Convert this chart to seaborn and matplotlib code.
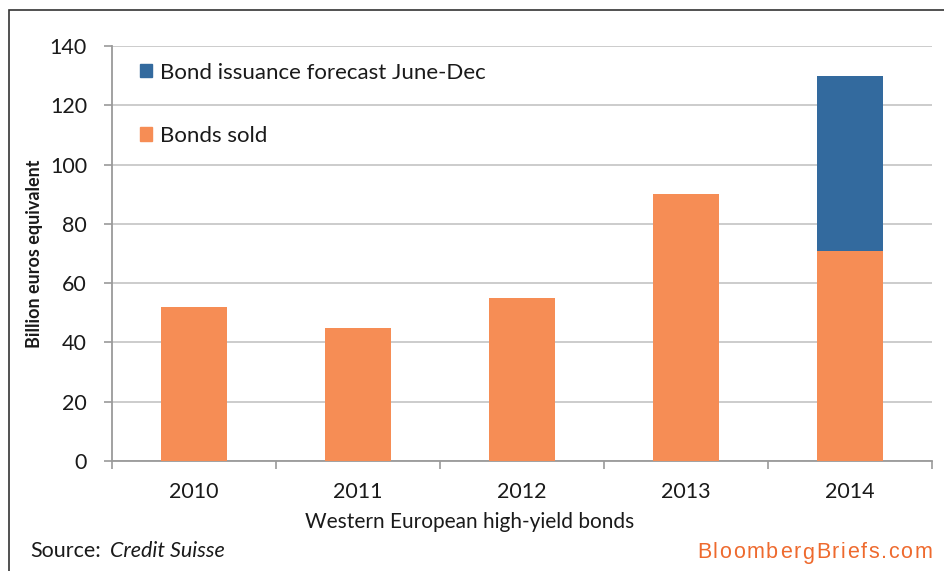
import matplotlib
matplotlib.use("Agg")
import matplotlib.pyplot as plt
import seaborn as sns
import pandas as pd
from matplotlib.patches import Rectangle, Patch
from matplotlib.font_manager import FontProperties

years = ["2010", "2011", "2012", "2013", "2014"]
bonds_sold = [52, 45, 55, 90, 71]
forecast_jun_dec = [0, 0, 0, 0, 59]
y_ticks = [0, 20, 40, 60, 80, 100, 120, 140]

ORANGE = "#F68D55"
BLUE = "#336A9E"
GRID = "#C8C8C8"
AXIS = "#9A9A9A"

sns.set_theme(style="white")
plt.rcParams["font.family"] = ["Lato", "DejaVu Sans"]

df = pd.DataFrame({
    "year": years,
    "sold": bonds_sold,
    "total": [s + f for s, f in zip(bonds_sold, forecast_jun_dec)],
})

fig = plt.figure(figsize=(9.45, 5.71), dpi=100)
ax = fig.add_axes([112 / 945, 1 - 461 / 571, (932 - 112) / 945, (461 - 46) / 571])

sns.barplot(data=df, x="year", y="total", color=BLUE, width=0.4, saturation=1,
            ax=ax, zorder=3)
sns.barplot(data=df, x="year", y="sold", color=ORANGE, width=0.4, saturation=1,
            ax=ax, zorder=4)
for p in ax.patches:
    p.set_edgecolor("none")

ax.set_ylim(0, 140)
ax.set_xlim(-0.5, 4.5)
ax.set_yticks(y_ticks)
ax.set_yticklabels([str(v) for v in y_ticks], fontsize=15.5, color="#1a1a1a")
ax.yaxis.grid(True, color=GRID, linewidth=1.3, zorder=0)
ax.set_axisbelow(True)

# category ticks: marks at boundaries, labels at centres
ax.set_xticks([i - 0.5 for i in range(len(years) + 1)])
ax.set_xticklabels([""] * (len(years) + 1))
ax.set_xticks(range(len(years)), minor=True)
ax.set_xticklabels(years, minor=True, fontsize=15.5, color="#1a1a1a")
ax.tick_params(axis="x", which="major", direction="out", length=6, width=1.2, color=AXIS, bottom=True)
ax.tick_params(axis="x", which="minor", length=0, pad=15)
ax.tick_params(axis="y", direction="out", length=6, width=1.2, color=AXIS, left=True, pad=12)

for s in ["top", "right"]:
    ax.spines[s].set_visible(False)
for s in ["left", "bottom"]:
    ax.spines[s].set_color(AXIS)
    ax.spines[s].set_linewidth(1.3)

ax.set_xlabel("Western European high-yield bonds", fontsize=15, color="#1a1a1a")
ax.xaxis.set_label_coords((470 - 112) / 820, -(522 - 461) / 415)
ax.xaxis.label.set_va("center")
ax.set_ylabel("Billion euros equivalent", fontsize=13, fontweight="bold", color="#1a1a1a")
ax.yaxis.set_label_coords(-(112 - 35) / 820, 0.5)
ax.yaxis.label.set_va("center")

handles = [Patch(color=BLUE, label="Bond issuance forecast June-Dec"),
           Patch(color=ORANGE, label="Bonds sold")]
leg = ax.legend(handles=handles, loc="upper left", bbox_to_anchor=(28 / 820, 0.96),
                frameon=False, fontsize=16, handlelength=0.55, handleheight=0.55,
                handletextpad=0.36, labelspacing=1.95, borderpad=0, borderaxespad=0)
for t in leg.get_texts():
    t.set_color("#1a1a1a")

# outer frame
fig.patches.append(Rectangle((9 / 945, -0.01), 1.0, 1 - 10 / 571 + 0.01,
                             transform=fig.transFigure, fill=False,
                             edgecolor="#333333", linewidth=1.2))

fig.text(30 / 945, 1 - 551 / 571, "Source:", fontsize=15.5, va="center", ha="left", color="#1a1a1a")
fig.text(110 / 945, 1 - 551 / 571, "Credit Suisse", fontsize=15.5, va="center", ha="left",
         style="italic", color="#1a1a1a")

# BloombergBriefs.com with slight letter tracking
brand = "BloombergBriefs.com"
fp = FontProperties(family="Liberation Sans", size=15.5)
fig.canvas.draw()
renderer = fig.canvas.get_renderer()
widths = [renderer.get_text_width_height_descent(ch, fp, ismath=False)[0] for ch in brand]
left_px, right_px = 697, 932
extra = max(0.0, (right_px - left_px - sum(widths)) / (len(brand) - 1))
x = right_px - sum(widths) - extra * (len(brand) - 1)
for ch, w in zip(brand, widths):
    fig.text(x / 945, 1 - 553 / 571, ch, fontproperties=fp, va="center", ha="left",
             color="#EE6A2E")
    x += w + extra

fig.savefig("out.png", dpi=100)
